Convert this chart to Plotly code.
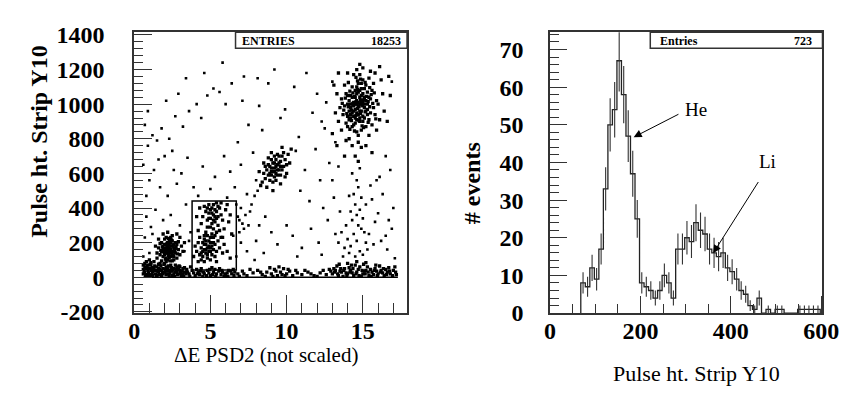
import plotly.graph_objects as go

# ---------------- data: left scatter (Delta E PSD2 vs pulse height) ----------------
big_cluster = [(14.7,990),(14.9,1010),(14.5,970),(15.1,1040),(14.3,950),(15.0,930),(14.6,1060),(14.8,900),(15.3,1000),(14.1,1020),
 (14.4,880),(15.2,960),(14.9,1090),(14.2,980),(15.5,1030),(14.0,930),(14.7,1120),(15.4,910),(13.9,1060),(14.6,840),
 (15.0,1140),(15.7,980),(14.3,1100),(13.8,990),(15.2,870),(14.8,1040),(14.5,920),(15.1,1000),(14.4,1010),(14.9,960),
 (14.6,1000),(14.2,1050),(15.3,1070),(13.7,940),(15.6,1080),(14.0,870),(15.8,940),(14.7,820),(15.4,1150),(13.6,1030),
 (14.1,910),(15.0,990),(14.8,1170),(14.3,1000),(15.2,1110),(13.9,890),(15.9,1020),(14.5,1080),(14.9,850),(15.5,950),
 (14.0,1000),(14.6,950),(15.1,920),(14.4,960),(14.8,1000),(15.0,1060),(14.2,940),(15.3,940),(13.5,980),(16.0,1000),
 (14.7,780),(15.6,880),(13.8,1110),(14.4,1170),(15.7,1120),(13.4,900),(16.1,910),(14.1,800),(15.4,820),(14.6,1200),
 (13.3,1060),(16.3,1060),(14.9,750),(15.0,1210),(13.6,850),(15.9,850),(13.2,950),(16.4,960),(14.3,760),(15.5,1190),
 (14.0,1180),(13.9,790),(16.2,1140),(13.1,1110),(16.6,900),(14.5,700),(15.2,760),(13.0,830),(16.8,1050),(14.8,1230),
 (16.1,1217),(13.4,1180),(15.8,1180),(16.7,1160),(13.3,760),(14.7,670),(15.6,720),(13.8,700),
 (14.6,1020),(14.8,960),(14.5,1000),(14.9,1020),(14.7,940),(14.3,1040),(15.1,980),(14.4,990),(14.6,910),(14.9,1050),
 (15.0,1010),(14.2,1000),(14.7,1070),(15.2,1020),(14.5,1040),(14.8,920),(14.1,960),(15.3,970),(14.6,1100),(14.4,930),
 (15.0,900),(14.9,1120),(14.3,870),(15.4,1040),(14.0,1050),(15.1,1090),(14.7,1010),(14.5,890),(14.8,1080),(14.2,920)]

big_core = [(14.75,985),(14.55,1015),(14.85,945),(14.65,975),(15.05,1025),(14.35,1005),(14.95,995),(14.45,1045),(15.15,955),(14.25,965),
 (14.65,1085),(14.85,1025),(15.25,1045),(14.15,1075),(14.55,935),(15.35,1015),(14.05,985),(14.75,905),(15.45,985),(14.35,1065),
 (14.95,875),(15.55,1055),(13.95,945),(14.65,1135),(15.15,1125),(14.25,905),(15.05,865),(14.45,845),(15.65,1005),(13.85,1035),
 (14.85,1145),(15.35,895),(14.15,855),(15.75,1065),(13.75,965),(14.55,1155),(15.45,1095),(14.05,1125),(15.85,915),(13.65,1005)]

mid_cluster = [(9.2,630),(9.0,610),(9.4,650),(8.8,590),(9.6,670),(9.1,660),(9.3,600),(8.9,640),(9.5,620),(9.7,700),
 (8.6,570),(9.2,580),(9.0,680),(9.8,640),(8.7,620),(9.4,710),(9.1,550),(9.9,680),(8.5,600),(9.3,640),
 (9.6,590),(8.9,560),(9.0,630),(9.2,700),(9.5,660),(8.8,650),(9.7,620),(8.4,550),(10.1,710),(9.3,560),
 (8.6,640),(9.8,720),(9.1,610),(9.4,590),(8.3,530),(10.2,660),(9.0,720),(9.6,540),(8.7,520),(10.0,600),
 (9.2,660),(8.9,600),(9.5,700),(9.3,680),(8.2,610),(10.3,740),(9.1,500),(9.7,750),(8.8,690),(10.0,650),
 (9.4,620),(9.0,590),(9.2,610),(9.6,640),(8.5,660),(9.9,580)]

low_cluster = [(2.3,160),(2.1,170),(2.5,150),(2.2,140),(2.4,180),(2.0,150),(2.6,170),(2.3,130),(1.9,180),(2.7,140),
 (2.2,200),(2.4,120),(1.8,150),(2.8,190),(2.1,110),(2.5,210),(2.0,190),(2.6,120),(2.3,190),(1.7,130),
 (2.9,160),(2.2,160),(2.4,150),(2.1,140),(2.5,180),(2.3,210),(1.9,120),(2.7,200),(2.0,220),(2.6,100),
 (1.6,170),(3.0,130),(2.4,230),(1.8,200),(2.8,110),(2.2,100),(3.1,180),(1.5,140),(2.5,240),(2.1,230),
 (2.3,170),(2.2,180),(2.4,160),(2.0,160),(2.6,150),(2.3,145),(2.1,155),(2.5,135),(2.7,165),(1.9,165),
 (2.3,115),(2.4,200),(1.7,195),(2.9,205),(2.0,130),(2.6,190),(3.2,150),(1.5,110),(1.6,220),(3.0,230),
 (2.8,250),(1.9,250),(2.2,260),(3.3,200),(1.4,180),(2.5,95),(2.1,90),(1.8,95),
 (2.25,165),(2.35,155),(2.15,175),(2.45,145),(2.05,165),(2.55,185),(2.25,125),(2.35,205),(1.95,145),(2.65,155),
 (2.15,195),(2.45,215),(1.85,175),(2.75,175),(2.05,105),(2.55,125),(2.25,225),(2.35,95),(1.75,155),(2.85,135)]

box_upper = [(5.2,360),(5.0,340),(5.4,380),(5.1,400),(5.3,320),(4.9,370),(5.5,350),(5.2,420),(4.8,330),(5.6,400),
 (5.0,290),(5.3,390),(4.7,380),(5.7,360),(5.1,310),(5.4,430),(4.6,410),(5.8,330),(5.2,280),(4.9,420),
 (5.5,300),(5.0,390),(4.5,350),(6.0,390),(5.3,350),(4.8,290),(5.6,270),(4.4,310),(6.1,420),(5.1,250),
 (5.4,260),(4.3,400),(6.2,320),(5.9,280),(4.7,260),(5.0,230),(5.3,240),(4.2,270),(6.3,360),(5.7,430),
 (4.6,240),(5.8,230),(5.2,330),(5.1,370),(4.9,340),(5.4,340),(5.5,410),(4.8,400),(6.4,250),(4.1,350)]

box_lower = [(4.7,160),(4.9,180),(4.5,150),(4.8,130),(5.0,200),(4.6,190),(5.2,160),(4.4,170),(4.7,210),(5.1,130),
 (4.3,130),(5.3,190),(4.8,110),(4.6,220),(5.4,150),(4.2,200),(4.9,150),(5.0,100),(4.5,120),(5.5,210),
 (4.1,150),(4.7,190),(5.2,230),(4.4,100),(5.6,170),(4.0,180),(5.3,120),(4.8,240),(5.8,140),(3.9,120),
 (4.6,90),(5.1,180),(4.9,210),(4.3,230),(5.7,230),(5.0,170),(4.7,140),(5.4,90),(4.5,200),(5.9,190),
 (4.2,90),(6.1,150),(4.8,170),(4.6,160),(5.0,150),(4.4,140),(5.2,200),(6.3,110)]

band_left = [(0.6,20),(0.7,60),(0.8,90),(0.9,40),(1.0,10),(1.1,70),(1.2,30),(0.7,80),(0.8,50),(1.0,100),
 (0.6,70),(1.3,50),(1.4,20),(0.9,10),(1.5,60),(1.6,30),(1.7,80),(1.8,10),(1.9,50),(2.0,30),
 (2.1,60),(2.2,20),(2.3,40),(2.4,70),(2.5,10),(2.6,50),(2.7,30),(2.8,60),(2.9,20),(3.0,40),
 (3.1,10),(3.2,50),(3.3,30),(3.4,20),(1.1,40),(1.3,90),(1.2,10),(1.6,50),(2.0,80),(2.4,40),
 (2.8,30),(3.2,20),(0.7,30),(0.9,70),(1.0,50),(1.4,40),(1.8,40),(2.2,50),(2.6,20),(3.0,60),
 (1.5,10),(1.9,20),(2.3,10),(2.7,70),(3.5,30),(0.6,45),(0.8,15),(1.1,85),(1.7,45),(2.1,15),
 (2.5,35),(2.9,45),(3.3,55),(1.2,55),(1.6,75)]

band_mid = [(3.6,20),(3.8,40),(4.0,10),(4.2,30),(4.4,50),(4.6,20),(4.8,40),(5.0,10),(5.2,30),(5.4,20),
 (5.6,50),(5.8,30),(6.0,10),(6.2,40),(6.4,20),(6.6,30),(4.1,45),(4.5,5),(4.9,25),(5.3,45),
 (5.7,15),(6.1,25),(6.5,45),(4.3,15),(5.1,55),(5.9,5),(3.7,60),(6.8,20),(7.1,35),(7.4,10),
 (7.8,25),(8.1,40),(8.4,15),(8.7,30),(9.0,20),(9.2,45),(9.4,10),(9.6,30),(9.8,50),(10.0,20),
 (10.2,35),(10.4,10),(10.7,25),(11.0,15),(11.4,30),(11.8,10),(12.2,25),(12.6,15),(12.9,35),(8.9,55),
 (9.3,35),(9.7,15),(10.1,45),(9.1,5),(9.5,60),(8.6,5),(7.6,45),(11.2,40),(12.0,5),(6.9,5)]

band_right = [(13.0,20),(13.2,40),(13.4,10),(13.6,30),(13.8,50),(14.0,20),(14.2,40),(14.4,10),(14.6,30),(14.8,60),
 (15.0,20),(15.2,40),(15.4,10),(15.6,30),(15.8,50),(16.0,20),(16.2,40),(16.4,10),(16.6,30),(16.8,20),
 (17.0,40),(17.2,15),(13.3,65),(13.7,5),(14.1,55),(14.5,70),(14.9,5),(15.3,60),(15.7,15),(16.1,65),
 (16.5,45),(13.5,35),(13.9,25),(14.3,25),(14.7,45),(15.1,35),(15.5,45),(15.9,35),(16.3,25),(16.7,55),
 (14.0,80),(14.6,90),(15.2,85),(13.1,50),(17.1,60),(12.8,45)]

band_extra = [(0.65,35),(0.75,5),(0.85,65),(0.95,25),(1.05,75),(1.15,15),(1.25,45),(1.35,65),(1.45,5),(1.55,35),
 (1.65,15),(1.75,65),(1.85,25),(1.95,75),(2.05,45),(2.15,35),(2.25,65),(2.35,25),(2.45,55),(2.55,45),
 (2.65,5),(2.75,45),(2.85,15),(2.95,65),(3.05,25),(3.15,35),(3.25,5),(3.45,45),(3.65,5),(3.9,25),
 (4.15,20),(4.35,35),(4.55,30),(4.75,10),(4.95,45),(5.15,15),(5.35,5),(5.55,35),(5.75,40),(5.95,20),
 (6.15,5),(6.35,35),(6.55,10),(13.15,30),(13.35,20),(13.55,50),(13.75,40),(13.95,10),(14.15,30),(14.35,50),
 (14.55,20),(14.75,10),(14.95,40),(15.15,20),(15.35,30),(15.55,5),(15.75,40),(15.95,10),(16.15,30),(16.35,50),
 (16.55,15),(16.75,35),(16.95,10),(17.15,30),(13.45,75),(14.25,70),(15.05,75),(15.85,70),(7.2,20),(8.3,30),
 (9.9,10),(10.6,40),(11.6,20),(12.4,40)]

stripe = [(14.5,120),(14.8,150),(14.2,180),(14.6,210),(15.0,130),(14.4,250),(14.9,280),(14.1,140),(15.2,200),(14.7,300),
 (14.3,330),(15.1,260),(14.6,360),(14.0,220),(14.8,390),(15.3,160),(14.5,420),(13.8,170),(15.0,340),(14.9,460),
 (14.4,480),(13.9,300),(15.4,250),(14.7,520),(14.2,380),(15.6,450),(14.6,560),(15.5,530),(13.7,120),(15.7,190),
 (14.3,600),(15.8,320),(13.6,260),(15.2,420),(14.1,470),(14.8,630),(15.9,560),(13.5,380),(16.2,210),(16.5,240),
 (16.7,330),(13.4,200)]

background = [(0.7,880),(0.9,760),(0.6,650),(1.0,560),(0.8,470),(1.2,820),(1.5,790),(1.8,860),(2.0,700),(2.5,730),
 (1.3,620),(1.7,520),(2.2,470),(2.8,540),(3.1,600),(3.5,690),(3.2,870),(2.7,930),(3.6,960),(4.1,1000),
 (4.4,920),(4.8,1050),(5.2,1090),(5.6,1070),(6.0,1000),(6.4,1120),(7.2,1160),(8.1,1150),(8.8,1120),(10.5,1100),
 (11.3,1180),(12.0,1060),(12.6,1010),(13.0,1130),(16.9,1130),(6.8,780),(7.5,880),(8.4,850),(9.6,920),(10.8,810),
 (11.9,740),(12.5,860),(13.2,780),(16.5,700),(16.8,620),(7.0,650),(7.8,720),(10.6,730),(11.2,620),(12.2,560),
 (12.8,660),(16.1,580),(16.3,480),(6.6,520),(7.4,480),(8.0,560),(10.9,500),(11.5,440),(12.4,400),(13.1,460),
 (17.0,400),(16.9,280),(0.8,350),(1.1,290),(1.4,390),(1.9,330),(2.4,360),(3.0,300),(3.4,420),(3.7,260),
 (0.7,230),(1.2,250),(6.9,330),(7.2,280),(7.6,380),(8.2,300),(8.6,350),(7.0,200),(7.4,150),(8.0,210),
 (8.5,140),(9.0,260),(9.4,190),(10.0,300),(10.4,240),(11.0,170),(11.6,280),(12.1,200),(12.7,330),(13.2,250),
 (16.0,370),(16.6,160),(17.1,110),(3.3,150),(3.6,210),(1.0,140),(0.6,120),(6.7,120),(6.5,240),(7.9,100),
 (10.7,120),(12.3,130),(3.9,520),(4.5,640),(5.3,580),(5.9,700),(6.3,610),(2.1,1020),(2.9,1060),(3.4,1150),
 (4.6,1180),(5.8,1240),(9.2,1200),(9.9,970),(11.7,950),(8.2,990),(7.1,1020),(12.3,900),(13.4,640),(13.0,560),
 (6.1,460),(5.0,510),(4.2,470),(2.6,620),(1.6,680),(0.9,960),(2.3,800),
 (6.8,350),(7.0,400),(6.9,260),(7.1,310),(7.3,360),(6.7,420),(7.5,300),(7.7,420),(7.9,470),(8.1,500)]

zero_row_x = [0.6, 17.3]
zero_row_y = [0, 0]
cut_box = dict(x0=3.8, x1=6.7, y0=42, y1=441)
left_entries = 18253

# ---------------- data: right histogram ----------------
hist_start = 68
hist_bin_width = 10
hist_counts = [8, 7, 12, 9, 17, 33, 50, 54, 67, 58, 47, 37, 25, 8,
               7, 6, 4, 6, 10, 8, 4, 17, 17, 20, 19, 24, 22, 21, 17, 16, 15, 16, 12, 11, 9, 6, 5, 2, 1, 4,
               0, 1, 0, 1, 1, 0, 0, 0, 1, 1, 1, 1, 1]
right_entries = 723

left_xticks = [0, 5, 10, 15]
left_yticks = [-200, 0, 200, 400, 600, 800, 1000, 1200, 1400]
right_xticks = [0, 200, 400, 600]
right_yticks = [0, 10, 20, 30, 40, 50, 60, 70]

# ---------------- build ----------------
SERIF = "Liberation Serif"
fig = go.Figure()

dense_groups = [big_cluster, big_core, mid_cluster, low_cluster, box_upper, box_lower,
                band_left, band_mid, band_right, band_extra]
sparse_groups = [stripe, background]
for groups, size in ((sparse_groups, 2.6), (dense_groups, 3.3)):
    fig.add_trace(go.Scatter(x=[p[0] for g in groups for p in g], y=[p[1] for g in groups for p in g],
                             mode="markers", xaxis="x", yaxis="y",
                             marker=dict(symbol="square", size=size, color="black", line=dict(width=0)),
                             hoverinfo="skip", showlegend=False))
fig.add_trace(go.Scatter(x=zero_row_x, y=zero_row_y, mode="lines", xaxis="x", yaxis="y",
                         line=dict(color="black", width=1.6), showlegend=False, hoverinfo="skip"))

edges = [hist_start + i * hist_bin_width for i in range(len(hist_counts) + 1)]
centers = [hist_start + (i + 0.5) * hist_bin_width for i in range(len(hist_counts))]
step_x = [edges[0]] + edges + [edges[-1]]
step_y = [0] + hist_counts + [hist_counts[-1], 0]
fig.add_trace(go.Scatter(x=step_x, y=step_y, mode="lines", line_shape="hv", xaxis="x2", yaxis="y2",
                         line=dict(color="#222", width=1.3), showlegend=False, hoverinfo="skip"))
nz = [i for i, c in enumerate(hist_counts) if c > 0]
fig.add_trace(go.Scatter(x=[centers[i] for i in nz], y=[hist_counts[i] for i in nz], mode="markers",
                         xaxis="x2", yaxis="y2", marker=dict(size=1, color="rgba(0,0,0,0)"),
                         error_y=dict(type="data", array=[hist_counts[i] ** 0.5 for i in nz],
                                      color="#333", thickness=1.1, width=0),
                         showlegend=False, hoverinfo="skip"))

W, H = 849, 402
def px(x): return x / W
def py(y): return 1 - y / H

tickfont = dict(family=SERIF, size=24, color="black", weight="bold")
common = dict(showline=True, mirror=True, linecolor="#333", linewidth=1.5, ticks="inside",
              tickcolor="#333", tickwidth=1.2, showgrid=False, zeroline=False, tickfont=tickfont)

fig.update_layout(
    width=W, height=H, margin=dict(l=0, r=0, t=0, b=0),
    paper_bgcolor="white", plot_bgcolor="white", showlegend=False,
    xaxis=dict(domain=[px(123.5), px(404)], range=[0, 17.9], tickvals=left_xticks,
               ticktext=[str(v) for v in left_xticks], ticklen=18,
               minor=dict(dtick=1, ticklen=10, ticks="inside", tickcolor="#333", tickwidth=1.2),
               ticklabelstandoff=-5, anchor="y", **common),
    yaxis=dict(domain=[py(313), py(15)], range=[-207, 1416], tickvals=left_yticks,
               ticktext=[str(v) for v in left_yticks], ticklen=18,
               minor=dict(dtick=40, ticklen=9, ticks="inside", tickcolor="#333", tickwidth=1.2),
               ticklabelstandoff=23, anchor="x", **common),
    xaxis2=dict(domain=[px(551), px(831)], range=[0, 603], tickvals=right_xticks,
                ticktext=[str(v) for v in right_xticks], ticklen=17,
                minor=dict(dtick=50, ticklen=9, ticks="inside", tickcolor="#333", tickwidth=1.2),
                ticklabelstandoff=-5, anchor="y2", **common),
    yaxis2=dict(domain=[py(313), py(15)], range=[0, 74.6], tickvals=right_yticks,
                ticktext=[str(v) for v in right_yticks], ticklen=17,
                minor=dict(dtick=2, ticklen=9, ticks="inside", tickcolor="#333", tickwidth=1.2),
                ticklabelstandoff=20, anchor="x2", **common),
)

shapes = [
    dict(type="rect", xref="x", yref="y", line=dict(color="black", width=1.5), **cut_box),
    dict(type="rect", xref="paper", yref="paper", x0=px(227.7), x1=px(404), y0=py(32), y1=py(15),
         line=dict(color="#333", width=1.5)),
    dict(type="rect", xref="paper", yref="paper", x0=px(654), x1=px(831), y0=py(32), y1=py(15),
         line=dict(color="#333", width=1.5)),
]
fig.update_layout(shapes=shapes)

small = dict(family=SERIF, size=12, color="black")
def pa(text, x, y, xa="center", ya="middle", **kw):
    return dict(text=text, x=px(x), y=py(y), xref="paper", yref="paper", xanchor=xa, yanchor=ya,
                showarrow=False, **kw)

ann = [
    pa("<b>ENTRIES</b>", 262, 24, font=small),
    pa("<b>%d</b>" % left_entries, 400, 24, xa="right", font=small),
    pa("<b>Entries</b>", 684, 24, font=small),
    pa("<b>%d</b>" % right_entries, 822, 24, xa="right", font=small),
    pa("<b>Pulse ht. Strip Y10</b>", 25, 131, textangle=-90, font=dict(family=SERIF, size=24, color="black")),
    pa("<b># events</b>", 471, 175, textangle=-90, font=dict(family=SERIF, size=24, color="black")),
    pa("ΔE PSD2 (not scaled)", 259, 357, font=dict(family=SERIF, size=21, color="black")),
    pa("Pulse ht. Strip Y10", 701, 377, font=dict(family=SERIF, size=22, color="black")),
    # He / Li labels and arrows
    dict(text="He", x=323, y=54, xref="x2", yref="y2", showarrow=False, xanchor="center", yanchor="middle",
         font=dict(family=SERIF, size=19, color="black")),
    dict(text="", x=185, y=46.7, ax=287.5, ay=53, xref="x2", yref="y2", axref="x2", ayref="y2",
         showarrow=True, arrowhead=2, arrowsize=1.6, arrowwidth=1, arrowcolor="black"),
    dict(text="Li", x=481, y=40.2, xref="x2", yref="y2", showarrow=False, xanchor="center", yanchor="middle",
         font=dict(family=SERIF, size=19, color="black")),
    dict(text="", x=361, y=15.9, ax=463, ay=35.2, xref="x2", yref="y2", axref="x2", ayref="y2",
         showarrow=True, arrowhead=2, arrowsize=1.6, arrowwidth=1, arrowcolor="black"),
]
fig.update_layout(annotations=ann)

fig.write_html("out.html")
